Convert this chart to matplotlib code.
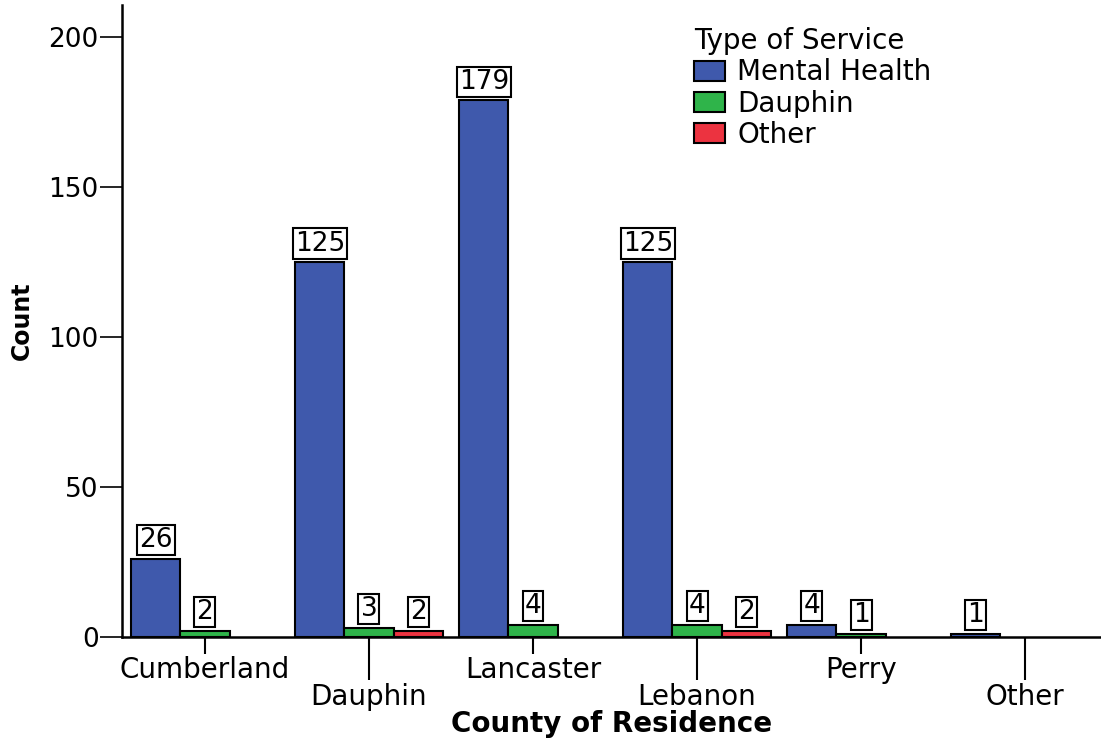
import numpy as np
import matplotlib
matplotlib.use("Agg")
import matplotlib.pyplot as plt
from matplotlib.patches import Patch

# County counts by type of service
counties = ["Cumberland", "Dauphin", "Lancaster", "Lebanon", "Perry", "Other"]
mental_health = [26, 125, 179, 125, 4, 1]
dauphin_svc = [2, 3, 4, 4, 1, 0]
other_svc = [0, 2, 0, 2, 0, 0]
series_names = ["Mental Health", "Dauphin", "Other"]
series_colors = ["#3F59AC", "#2FB44A", "#EC3340"]
y_ticks = [0, 50, 100, 150, 200]

plt.rcParams["font.family"] = ["DejaVu Sans"]

fig = plt.figure(figsize=(11.01, 7.38), dpi=100)
ax = fig.add_axes([122.3 / 1101, 101.3 / 738, (1101 - 122.3) / 1101, 631.4 / 738])

x = np.arange(len(counties))
width = 0.3
offsets = [-width, 0.0, width]
series = [mental_health, dauphin_svc, other_svc]

for vals, name, color, off in zip(series, series_names, series_colors, offsets):
    bars = ax.bar(x + off, vals, width=width, color=color, edgecolor="black",
                  linewidth=1.5, zorder=2)
    for rect, v in zip(bars, vals):
        if v <= 0:
            rect.set_visible(False)
            continue
        ax.annotate(str(v), xy=(rect.get_x() + rect.get_width() / 2, v),
                    xytext=(0, 4), textcoords="offset points",
                    ha="center", va="bottom", fontsize=19, zorder=4,
                    bbox=dict(boxstyle="square,pad=0.08", fc="white",
                              ec="black", lw=1.5))

ax.set_xlim(-0.504, 5.463)
ax.set_ylim(0, 210.7)

# y axis
ax.set_yticks(y_ticks)
ax.set_yticklabels([str(t) for t in y_ticks], fontsize=19)
ax.tick_params(axis="y", direction="out", length=16, width=1.2, pad=1)
ax.set_ylabel("Count", fontsize=17, fontweight="bold",
              family=["Liberation Sans Narrow", "DejaVu Sans"])
ax.yaxis.set_label_coords(-0.09, 0.5)

# x axis: staggered labels with short and long ticks
ax.set_xticks(x[0::2], labels=counties[0::2])
ax.set_xticks(x[1::2], labels=counties[1::2], minor=True)
ax.tick_params(axis="x", which="major", direction="out", length=12,
               width=1.5, labelsize=20, pad=2)
ax.tick_params(axis="x", which="minor", direction="out", length=31,
               width=1.5, labelsize=20, pad=2)
ax.set_xlabel("County of Residence", fontsize=20, fontweight="bold")
ax.xaxis.label.set_va("center")
ax.xaxis.set_label_coords(0.5, -0.139)

for s in ["top", "right"]:
    ax.spines[s].set_visible(False)
for s in ["left", "bottom"]:
    ax.spines[s].set_linewidth(1.8)

handles = [Patch(facecolor=c, edgecolor="black", linewidth=1.5, label=n)
           for n, c in zip(series_names, series_colors)]
ax.legend(handles=handles, title="Type of Service", loc="upper left",
          bbox_to_anchor=(694 / 1101, 1 - 27 / 738),
          bbox_transform=fig.transFigure, frameon=False,
          fontsize=20, title_fontsize=20, handlelength=1.1,
          handleheight=0.72, handletextpad=0.45, labelspacing=0.12,
          borderpad=0, borderaxespad=0, alignment="left")

fig.savefig("out.png", dpi=100)
